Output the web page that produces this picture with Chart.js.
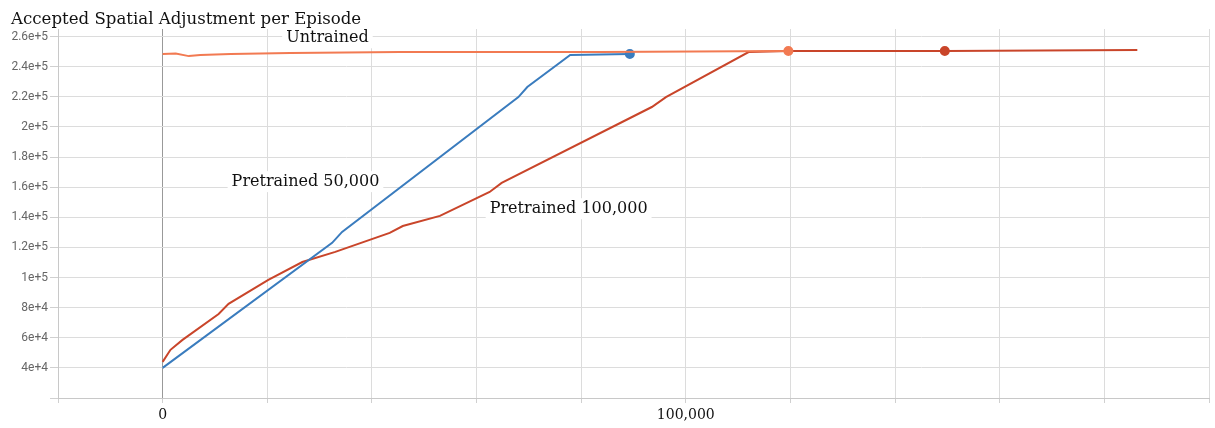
<!DOCTYPE html>
<html lang="en">
<head>
    <meta charset="UTF-8">
    <title>Accepted Spatial Adjustment per Episode</title>
    <script src="https://cdn.jsdelivr.net/npm/chart.js"></script>
    <style>
        html, body { margin: 0; padding: 0; background: #fff; }
        #wrap { width: 1215px; height: 428px; }
    </style>
</head>
<body>
    <div id="wrap"><canvas id="chart"></canvas></div>

    <script>
        // values (step, value)
        const untrainedSteps = [0, 2500, 5000, 7200, 13000, 24400, 45300, 83400, 119600];
        const untrainedValues = [248400, 248700, 247000, 247700, 248400, 249000, 249700, 249700, 250400];

        const pre50Steps = [0, 32400, 34300, 68000, 69700, 77900, 89300];
        const pre50Values = [40000, 123000, 130300, 219800, 226500, 247700, 248400];

        const pre100Steps = [0, 1500, 3800, 10700, 12600, 20200, 26700, 33000, 43400, 45900, 53000, 62500, 64800, 93500, 96200, 112000, 119600, 149500, 186300];
        const pre100Values = [44000, 52000, 58600, 75800, 82500, 98400, 110300, 117000, 129600, 134200, 140900, 156800, 162800, 213200, 219800, 249700, 250400, 250400, 251000];

        const xTickSteps = [-20000, 0, 20000, 40000, 60000, 80000, 100000, 120000, 140000, 160000, 180000, 200000];
        const xLabelSteps = [0, 100000];
        const yTickValues = [20000, 40000, 60000, 80000, 100000, 120000, 140000, 160000, 180000, 200000, 220000, 240000, 260000];
        const seriesNames = ['Untrained', 'Pretrained 50,000', 'Pretrained 100,000'];

        const serif = '"DejaVu Serif", "Liberation Serif", serif';

        function pts(xs, ys) {
            return xs.map((x, i) => ({ x: x, y: ys[i] }));
        }
        function dotAt(n, idx, r) {
            return Array.from({ length: n }, (_, i) => i === idx ? r : 0);
        }

        // text labels on the plot, placed in data units
        const notes = [
            { text: seriesNames[0], x: 31500, y: 259500 },
            { text: seriesNames[1], x: 27300, y: 164000 },
            { text: seriesNames[2], x: 77600, y: 146000 }
        ];

        const decorations = {
            id: 'decorations',
            afterDatasetsDraw(chart) {
                const ctx = chart.ctx;
                const xs = chart.scales.x, ys = chart.scales.y;
                ctx.save();
                ctx.font = '16px ' + serif;
                ctx.textBaseline = 'middle';
                ctx.textAlign = 'center';
                notes.forEach(n => {
                    const px = xs.getPixelForValue(n.x);
                    const py = ys.getPixelForValue(n.y);
                    const w = ctx.measureText(n.text).width;
                    ctx.fillStyle = '#fff';
                    ctx.fillRect(px - w / 2 - 4, py - 10, w + 8, 21);
                    ctx.fillStyle = '#111';
                    ctx.fillText(n.text, px, py + 1);
                });
                ctx.restore();
            },
            afterDraw(chart) {
                const ctx = chart.ctx;
                ctx.save();
                ctx.font = '16.6px ' + serif;
                ctx.fillStyle = '#111';
                ctx.textBaseline = 'alphabetic';
                ctx.textAlign = 'left';
                ctx.fillText('Accepted Spatial Adjustment per Episode', 11, 24);
                ctx.restore();
            }
        };

        new Chart(document.getElementById('chart'), {
            type: 'scatter',
            data: {
                datasets: [
                    {
                        label: seriesNames[2],
                        data: pts(pre100Steps, pre100Values),
                        borderColor: '#c9452a',
                        backgroundColor: '#c9452a',
                        pointRadius: dotAt(pre100Steps.length, 17, 4),
                        order: 3
                    },
                    {
                        label: seriesNames[1],
                        data: pts(pre50Steps, pre50Values),
                        borderColor: '#3a7cbe',
                        backgroundColor: '#3a7cbe',
                        pointRadius: dotAt(pre50Steps.length, pre50Steps.length - 1, 4),
                        order: 2
                    },
                    {
                        label: seriesNames[0],
                        data: pts(untrainedSteps, untrainedValues),
                        borderColor: '#f27a52',
                        backgroundColor: '#f27a52',
                        pointRadius: dotAt(untrainedSteps.length, untrainedSteps.length - 1, 4),
                        order: 1
                    }
                ].map(d => Object.assign(d, { showLine: true, borderWidth: 2, tension: 0, pointHoverRadius: 0 }))
            },
            options: {
                responsive: true,
                maintainAspectRatio: false,
                animation: false,
                events: [],
                layout: { padding: { top: 29, right: 4, left: 0, bottom: 0 } },
                plugins: {
                    legend: { display: false },
                    tooltip: { enabled: false },
                    title: { display: false }
                },
                scales: {
                    x: {
                        type: 'linear',
                        min: -20000,
                        max: 200000,
                        afterFit(s) { s.height = 30; },
                        afterBuildTicks(s) { s.ticks = xTickSteps.map(v => ({ value: v })); },
                        ticks: {
                            autoSkip: false,
                            maxRotation: 0,
                            padding: 4,
                            color: '#111',
                            font: { family: serif, size: 14 },
                            callback: v => xLabelSteps.includes(v) ? v.toLocaleString('en-US') : ''
                        },
                        grid: {
                            color: c => c.tick && c.tick.value === 0 ? '#999' : '#dcdcdc',
                            tickColor: '#d0d0d0',
                            tickLength: 5
                        },
                        border: { color: '#c8c8c8' }
                    },
                    y: {
                        type: 'linear',
                        min: 20000,
                        max: 265000,
                        afterFit(s) { s.width = 58; },
                        afterBuildTicks(s) { s.ticks = yTickValues.map(v => ({ value: v })); },
                        ticks: {
                            autoSkip: false,
                            padding: 2,
                            color: '#666',
                            font: { family: 'Roboto', size: 12 },
                            callback: v => v === yTickValues[0] ? '' : Number(v).toExponential()
                        },
                        grid: {
                            color: '#dcdcdc',
                            tickColor: '#d0d0d0',
                            tickLength: 8
                        },
                        border: { color: '#c8c8c8' }
                    }
                }
            },
            plugins: [decorations]
        });
    </script>
</body>
</html>
